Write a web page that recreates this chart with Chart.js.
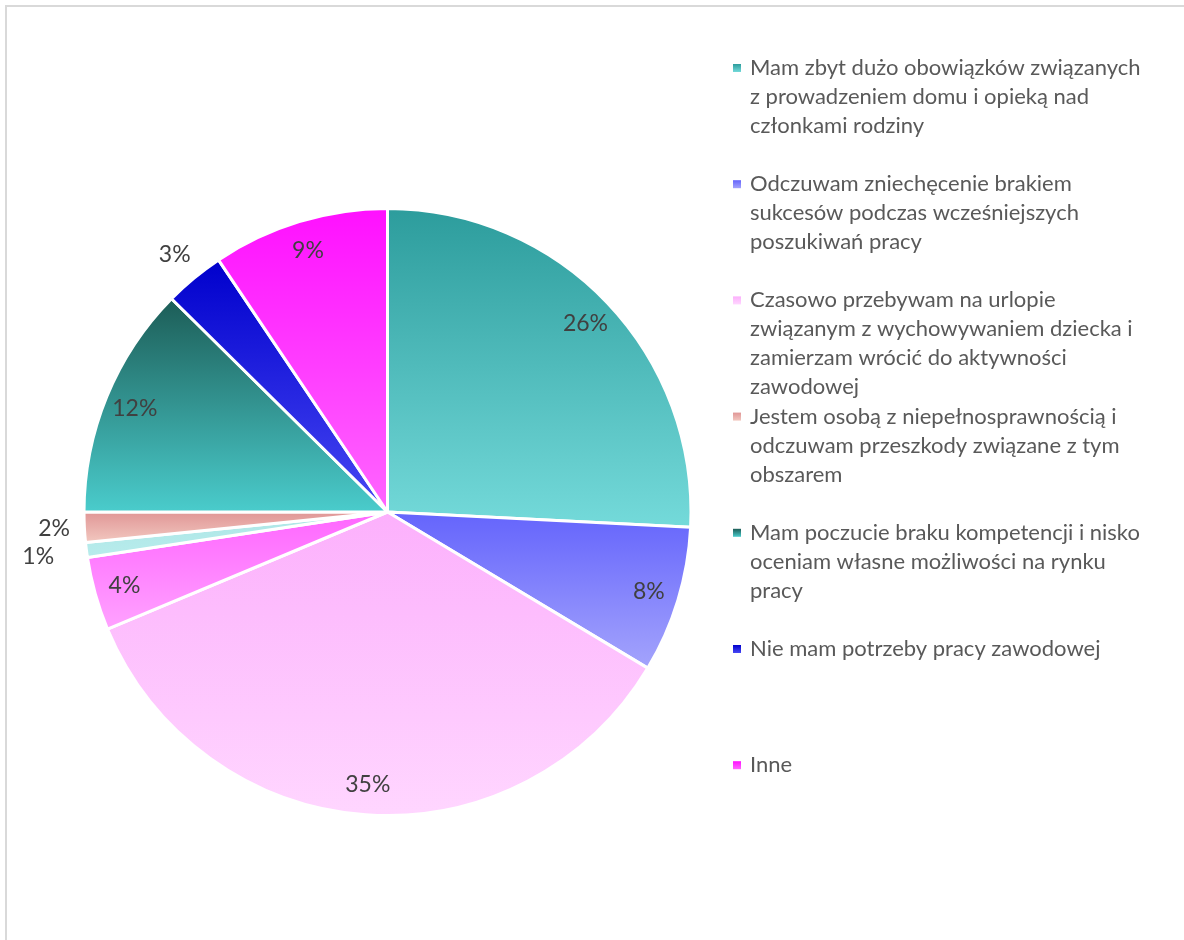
<!DOCTYPE html>
<html>
  <head>
    <meta charset="utf-8" />
    <title>Powody niepodejmowania pracy</title>
    <script src="https://cdn.jsdelivr.net/npm/chart.js"></script>
    <style>
      body {
        margin: 0;
        background: #ffffff;
        font-family: Lato, sans-serif;
      }

      .frame {
        position: absolute;
        left: 5px;
        top: 5px;
        width: 1200px;
        height: 960px;
        border: 2px solid #d9d9d9;
      }

      .chart-box {
        position: absolute;
        left: 0;
        top: 0;
        width: 1184px;
        height: 940px;
      }
    </style>
  </head>
  <body>
    <div class="frame"></div>
    <div class="chart-box">
      <canvas id="myChart" width="1184" height="940"></canvas>
    </div>

    <script>
      // answers, in the order the slices go round (clockwise from the top)
      const categories = [
        ["Mam zbyt dużo obowiązków związanych", "z prowadzeniem domu i opieką nad", "członkami rodziny"],
        ["Odczuwam zniechęcenie brakiem", "sukcesów podczas wcześniejszych", "poszukiwań pracy"],
        ["Czasowo przebywam na urlopie", "związanym z wychowywaniem dziecka i", "zamierzam wrócić do aktywności", "zawodowej"],
        "",
        "",
        ["Jestem osobą z niepełnosprawnością i", "odczuwam przeszkody związane z tym", "obszarem"],
        ["Mam poczucie braku kompetencji i nisko", "oceniam własne możliwości na rynku", "pracy"],
        ["Nie mam potrzeby pracy zawodowej"],
        ["Inne"]
      ];

      // share of answers, %
      const shares = [25.8, 7.8, 35.1, 3.9, 0.8, 1.6, 12.4, 3.2, 9.4];

      // each slice is filled with a vertical gradient (top -> bottom)
      const topColors = ["#2c9c9c", "#6464fc", "#fcb0fc", "#ff66ff", "#ace6e6", "#e09696", "#1c5c56", "#0000cc", "#ff10ff"];
      const bottomColors = ["#74dada", "#a4a4fc", "#ffd6ff", "#ffa2ff", "#b8ecec", "#f2c8c0", "#4acccc", "#4848f4", "#ff66ff"];

      const total = shares.reduce((a, b) => a + b, 0);

      // vertical extent of slice i, worked out from the pie geometry
      function sliceSpan(area, i) {
        const cx = (area.left + area.right) / 2;
        const cy = (area.top + area.bottom) / 2;
        const r = Math.min(area.width, area.height) / 2;
        let before = 0;
        for (let k = 0; k < i; k++) before += shares[k];
        const a0 = -Math.PI / 2 + (2 * Math.PI * before) / total;
        const a1 = a0 + (2 * Math.PI * shares[i]) / total;
        const ys = [cy, cy + r * Math.sin(a0), cy + r * Math.sin(a1)];
        [-Math.PI / 2, Math.PI / 2, (3 * Math.PI) / 2].forEach((a) => {
          if (a >= a0 && a <= a1) ys.push(cy + r * Math.sin(a));
        });
        return [Math.min(...ys), Math.max(...ys)];
      }

      function sliceFill(context) {
        const chart = context.chart;
        const i = context.dataIndex;
        const area = chart.chartArea;
        if (!area || i === undefined) return topColors[i] || "#cccccc";
        const [y0, y1] = sliceSpan(area, i);
        const g = chart.ctx.createLinearGradient(0, y0, 0, y1);
        g.addColorStop(0, topColors[i]);
        g.addColorStop(1, bottomColors[i]);
        return g;
      }

      // percentage labels, inside the slice or just outside for the thin ones
      const pctLabels = {
        id: "pctLabels",
        afterDatasetsDraw(chart) {
          const ctx = chart.ctx;
          const meta = chart.getDatasetMeta(0);
          ctx.save();
          ctx.font = "23px Lato";
          ctx.fillStyle = "#404040";
          ctx.textAlign = "center";
          ctx.textBaseline = "middle";
          meta.data.forEach((arc, i) => {
            const p = arc.getProps(["x", "y", "startAngle", "endAngle", "outerRadius"], true);
            const mid = (p.startAngle + p.endAngle) / 2;
            const pct = (shares[i] / total) * 100;
            let k = 0.9;
            if (pct < 3.5) k = pct < 1 ? 1.16 : 1.1;
            ctx.fillText(
              Math.round(pct) + "%",
              p.x + Math.cos(mid) * p.outerRadius * k,
              p.y + Math.sin(mid) * p.outerRadius * k
            );
          });
          ctx.restore();
        },
      };

      // legend on the right, every entry gets the same slot height
      const sideLegend = {
        id: "sideLegend",
        afterDraw(chart, args, opts) {
          const ctx = chart.ctx;
          ctx.save();
          ctx.font = "22px Lato";
          ctx.textBaseline = "middle";
          ctx.textAlign = "left";
          let slot = 0;
          categories.forEach((lines, i) => {
            if (!lines.length) return;
            const y = opts.top + slot * opts.step;
            const g = ctx.createLinearGradient(0, y - 4, 0, y + 4);
            g.addColorStop(0, topColors[i]);
            g.addColorStop(1, bottomColors[i]);
            ctx.fillStyle = g;
            ctx.fillRect(opts.x, y - 4, 8, 8);
            ctx.fillStyle = "#595959";
            lines.forEach((line, j) => {
              ctx.fillText(line, opts.x + 17, y + j * opts.lineHeight);
            });
            slot++;
          });
          ctx.restore();
        },
      };

      const ctx = document.getElementById("myChart").getContext("2d");
      new Chart(ctx, {
        type: "pie",
        data: {
          labels: categories,
          datasets: [
            {
              data: shares,
              backgroundColor: sliceFill,
              borderColor: "#ffffff",
              borderWidth: 3,
              hoverOffset: 0,
            },
          ],
        },
        options: {
          responsive: false,
          animation: false,
          layout: {
            padding: { top: 207, bottom: 123, left: 82, right: 491 },
          },
          plugins: {
            legend: { display: false },
            sideLegend: { x: 733, top: 68, step: 116.2, lineHeight: 29 },
          },
        },
        plugins: [pctLabels, sideLegend],
      });
    </script>
  </body>
</html>
